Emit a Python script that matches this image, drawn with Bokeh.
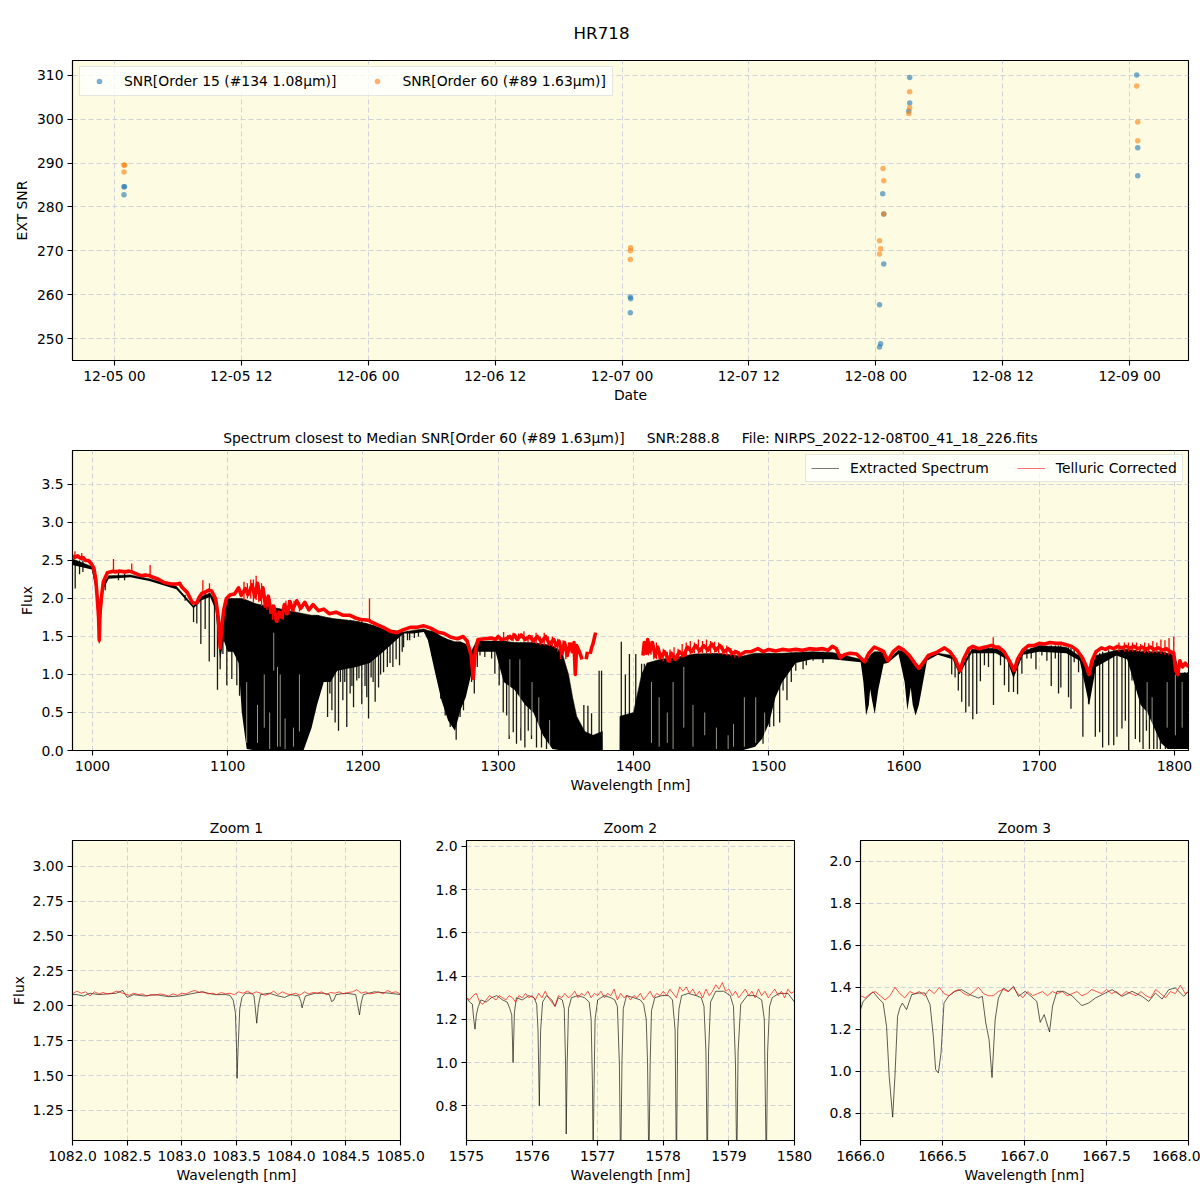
import pandas as pd
from bokeh.embed import file_html
from bokeh.layouts import column, row
from bokeh.models import (DatetimeTickFormatter, FixedTicker, Legend, LegendItem,
                          NumeralTickFormatter, Range1d, Title)
from bokeh.plotting import figure
from bokeh.resources import INLINE

nan = float("nan")

# ---- top panel
date_ticks = ["2022-12-05 00:00", "2022-12-05 12:00", "2022-12-06 00:00", "2022-12-06 12:00", "2022-12-07 00:00",
              "2022-12-07 12:00", "2022-12-08 00:00", "2022-12-08 12:00", "2022-12-09 00:00"]
snr_ticks = [250, 260, 270, 280, 290, 300, 310]
o15_time = ["2022-12-05 00:54", "2022-12-05 00:57", "2022-12-05 00:54",
            "2022-12-07 00:47", "2022-12-07 00:49", "2022-12-07 00:47",
            "2022-12-08 00:21", "2022-12-08 00:27", "2022-12-08 00:21", "2022-12-08 00:39", "2022-12-08 00:45", "2022-12-08 00:45",
            "2022-12-08 03:12", "2022-12-08 03:12", "2022-12-08 03:07",
            "2022-12-09 00:40", "2022-12-09 00:46", "2022-12-09 00:46"]
o15_snr = [284.6, 284.6, 282.8, 259.5, 259.1, 255.9, 257.7, 248.8, 248.1, 283.0, 278.4, 267.0, 309.5, 303.7, 301.9, 310.1, 293.5, 287.1]
o60_time = ["2022-12-05 00:54", "2022-12-05 00:57", "2022-12-05 00:54",
            "2022-12-07 00:49", "2022-12-07 00:47", "2022-12-07 00:47",
            "2022-12-08 00:41", "2022-12-08 00:45", "2022-12-08 00:45", "2022-12-08 00:21", "2022-12-08 00:27", "2022-12-08 00:21",
            "2022-12-08 03:12", "2022-12-08 03:12", "2022-12-08 03:07",
            "2022-12-09 00:40", "2022-12-09 00:46", "2022-12-09 00:46"]
o60_snr = [289.6, 289.5, 288.0, 270.7, 270.0, 268.0, 288.8, 286.0, 278.4, 272.3, 270.5, 269.3, 306.3, 302.6, 301.3, 307.6, 299.4, 295.1]

# ---- full spectrum: solid band of the extracted spectrum
band_wl = [985.2, 999.5, 1003, 1005, 1008, 1012, 1028, 1042, 1062, 1074.7, 1081, 1087, 1091, 1094.4, 1097, 1100, 1104, 1108,
           1110.4, 1114, 1121, 1156, 1162, 1166, 1171, 1176, 1181, 1195, 1205, 1215, 1230, 1237, 1245, 1248, 1253, 1258, 1263,
           1268, 1272, 1276, 1280, 1284, 1298, 1304, 1312, 1320, 1326, 1333, 1340, 1347, 1352, 1355, 1358, 1364, 1370, 1377,
           1377.1, 1389.9, 1390, 1400, 1406, 1410, 1420, 1430, 1445, 1463, 1480, 1490, 1495, 1500, 1505, 1510, 1520, 1532,
           1547, 1568, 1570, 1572, 1574, 1575, 1576.5, 1578.4, 1581, 1585, 1588, 1596, 1600.5, 1602.5, 1604, 1605, 1606.5, 1608.6, 1611, 1613, 1617, 1625,
           1636, 1641, 1650, 1668,
           1676, 1681, 1688, 1700, 1720, 1730, 1737, 1742, 1757, 1765, 1770, 1775, 1780, 1785, 1790, 1795, 1800, 1804, 1810.4]
band_top = [2.52, 2.42, 2.12, 1.70, 2.18, 2.30, 2.31, 2.26, 2.16, 1.90, 2.03, 2.07, 1.96, 1.45, 1.80, 2.00, 2.00, 2.00,
            2.00, 1.98, 1.93, 1.80, 1.78, 1.78, 1.76, 1.74, 1.73, 1.70, 1.66, 1.60, 1.56, 1.58, 1.60, 1.58, 1.56, 1.50, 1.46,
            1.43, 1.43, 1.40, 1.30, 1.44, 1.44, 1.44, 1.42, 1.42, 1.42, 1.40, 1.38, 1.30, 1.00, 0.70, 0.45, 0.25, 0.20, 0.25,
            0.0, 0.0, 0.45, 0.50, 1.00, 1.15, 1.20, 1.22, 1.27, 1.28, 1.24, 1.28, 1.28, 1.28, 1.28, 1.28, 1.29, 1.30,
            1.29, 1.20, 1.17, 1.18, 1.22, 1.25, 1.28, 1.30, 1.30, 1.30, 1.19, 1.32, 1.30, 1.28, 1.24, 1.20, 1.16, 1.10, 1.06, 1.15, 1.22, 1.28,
            1.25, 1.05, 1.33, 1.35,
            1.25, 1.03, 1.30, 1.38, 1.36, 1.24, 1.00, 1.25, 1.32, 1.33, 1.32, 1.30, 1.30, 1.30, 1.30, 1.28, 1.25, 1.02, 1.02]
band_low = [2.44, 2.38, 2.05, 1.42, 2.12, 2.26, 2.28, 2.23, 2.12, 1.87, 1.98, 2.02, 1.85, 1.20, 1.45, 1.30, 1.30, 1.15,
            0.50, 0.02, 0.0, 0.0, 0.30, 0.60, 0.90, 0.90, 1.05, 1.10, 1.15, 1.30, 1.54, 1.54, 1.56, 1.45, 1.05, 0.66, 0.39,
            0.26, 0.53, 0.70, 1.00, 1.30, 1.30, 0.90, 0.80, 0.60, 0.50, 0.20, 0.02, 0.0, 0.0, 0.0, 0.0, 0.0, 0.0, 0.0,
            0.0, 0.0, 0.0, 0.0, 0.0, 0.0, 0.0, 0.0, 0.0, 0.0, 0.0, 0.05, 0.15, 0.35, 0.70, 0.90, 1.15, 1.20,
            1.20, 1.16, 0.90, 0.46, 0.60, 0.81, 0.65, 0.48, 0.80, 1.14, 1.15, 1.27, 0.90, 0.53, 0.70, 0.83, 0.60, 0.46, 0.60, 0.79, 1.18, 1.26,
            1.20, 1.00, 1.28, 1.28,
            1.20, 0.95, 1.26, 1.30, 1.28, 1.18, 0.60, 1.10, 1.25, 1.20, 0.90, 0.60, 0.50, 0.30, 0.10, 0.02, 0.02, 0.02, 0.02]

# ---- full spectrum: deep telluric lines
line_wl = [987.2, 990.4, 992.9, 1009.4, 1011.8, 1019.2, 1023.7, 1068.5, 1074.7, 1077.1, 1080.1, 1083.3, 1086.3, 1090.2, 1092.4,
           1094.4, 1096.4, 1099.3, 1103.0, 1106.7, 1108.7, 1164.1, 1167.1, 1169.6, 1173.8, 1177.0, 1179.4, 1181.9, 1185.1,
           1188.0, 1193.0, 1195.4, 1199.1, 1204.1, 1206.0, 1209.0, 1211.5, 1215.2, 1222.1, 1227.0, 1230.0, 1232.9, 1250.9,
           1254.6, 1257.5, 1260.8, 1264.5, 1268.9, 1271.8, 1274.3, 1277.8, 1280.3, 1282.3, 1284.5, 1286.5, 1290.1, 1295.1,
           1297.5, 1300.7, 1303.7, 1306.2, 1308.1, 1311.1, 1313.5, 1316.7, 1319.7, 1322.2, 1324.6, 1328.3, 1332.0, 1335.7,
           1363.3, 1366.3, 1369.0, 1374.6, 1376.4, 1391.0, 1394.0, 1397.0, 1401.7, 1406.0, 1408.0,
           1495.8, 1500.7, 1503.7, 1508.1, 1510.6, 1513.5, 1516.7, 1520.0, 1525.4, 1527.8, 1532.8, 1540.1,
           1635.3, 1637.8, 1640.2, 1642.7, 1645.7, 1648.1, 1650.9, 1653.8, 1656.5, 1659.5, 1662.5, 1666.2, 1671.4, 1674.3,
           1677.5, 1681.0, 1684.0, 1687.2, 1690.9, 1694.1, 1697.6, 1702.0, 1705.7, 1708.9, 1711.9, 1714.3, 1716.0, 1721.7,
           1723.5, 1725.9, 1729.1, 1732.3, 1736.5, 1741.5, 1744.7, 1746.9, 1751.4, 1755.1, 1757.5, 1761.2, 1763.7, 1766.2,
           1768.6, 1771.1, 1774.3, 1776.8, 1779.3, 1781.5, 1784.7, 1787.2, 1789.6, 1793.3, 1797.0, 1800.7, 1804.4, 1807.7, 1809.9,
           1165.5, 1171.5, 1175.5, 1183.3, 1186.5, 1190.5, 1191.8, 1197.0, 1201.5, 1202.8, 1207.5, 1213.0, 1218.0, 1220.0, 1224.5, 1229.0, 1234.5, 1238.0, 1241.0]
line_low = [2.13, 2.32, 2.35, 2.11, 2.28, 2.24, 2.24, 1.97, 1.69, 1.67, 1.40, 1.60, 1.17, 1.23, 0.80,
            1.07, 1.27, 0.86, 0.94, 0.86, 0.72, 0.50, 1.14, 0.96, 0.44, 0.53, 0.37, 0.26, 0.66,
            0.31, 0.57, 0.92, 0.61, 0.42, 0.96, 0.64, 0.83, 1.03, 1.10, 1.12, 1.36, 1.45, 1.25,
            0.96, 0.68, 0.46, 0.31, 0.14, 0.44, 0.53, 0.92, 0.90, 0.75, 1.10, 1.25, 1.23, 1.21,
            1.01, 0.86, 0.50, 0.46, 0.15, 0.24, 0.09, 0.13, 0.04, 0.26, 0.15, 0.04, 0.04, 0.02,
            0.0, 0.0, 0.0, 0.0, 0.0, 0.0, 0.0, 0.0, 0.0, 0.0, 0.0,
            0.09, 0.31, 0.32, 0.37, 0.79, 0.66, 0.90, 1.05, 1.07, 1.12, 1.18, 1.15,
            1.00, 0.96, 0.79, 0.64, 0.50, 0.58, 0.41, 0.48, 0.91, 1.12, 1.10, 0.60, 1.12, 0.86,
            0.77, 0.77, 0.74, 1.01, 1.21, 1.21, 1.07, 1.25, 1.18, 0.85, 1.21, 0.75, 0.83, 0.70,
            0.55, 1.16, 1.03, 0.18, 0.61, 0.18, 0.24, 0.04, 0.07, 0.07, 0.18, 0.29, 0.39, 0.0,
            0.92, 0.15, 0.11, 0.02, 0.26, 0.02, 0.02, 0.02, 0.02, 0.02, 0.02, 0.02, 0.02, 0.09, 0.02,
            0.70, 0.90, 0.75, 0.90, 0.90, 0.75, 0.85, 0.95, 0.85, 0.70, 0.90, 1.00, 1.10, 1.15, 1.20, 1.30, 1.45, 1.48, 1.50]
line_top = [2.45, 2.50, 2.50, 2.25, 2.30, 2.34, 2.33, 2.05, 1.90, 1.94, 2.00, 2.06, 2.08, 2.00, 1.90,
            1.60, 1.80, 2.00, 2.00, 2.00, 2.00, 1.78, 1.78, 1.76, 1.75, 1.74, 1.73, 1.73, 1.72,
            1.72, 1.71, 1.70, 1.70, 1.66, 1.65, 1.64, 1.62, 1.60, 1.57, 1.56, 1.56, 1.57, 1.58,
            1.56, 1.50, 1.47, 1.45, 1.43, 1.43, 1.41, 1.38, 1.20, 1.28, 1.44, 1.44, 1.44, 1.44,
            1.44, 1.44, 1.44, 1.44, 1.43, 1.43, 1.42, 1.42, 1.42, 1.42, 1.42, 1.41, 1.40, 1.39,
            0.60, 0.59, 0.49, 1.05, 1.05, 1.43, 1.00, 1.27, 1.27, 1.14, 1.14,
            1.28, 1.28, 1.28, 1.28, 1.28, 1.28, 1.29, 1.29, 1.30, 1.30, 1.30, 1.30,
            1.25, 1.20, 1.05, 1.15, 1.28, 1.33, 1.34, 1.33, 1.33, 1.34, 1.35, 1.36, 1.35, 1.28,
            1.18, 1.03, 1.18, 1.30, 1.34, 1.35, 1.36, 1.38, 1.37, 1.38, 1.38, 1.38, 1.38, 1.36,
            1.35, 1.33, 1.26, 1.20, 1.00, 1.25, 1.28, 1.30, 1.32, 1.32, 1.32, 1.33, 1.33, 1.33,
            1.33, 1.32, 1.32, 1.32, 1.31, 1.31, 1.30, 1.30, 1.30, 1.29, 1.28, 1.04, 1.02, 1.03, 1.03,
            1.78, 1.76, 1.75, 1.73, 1.72, 1.72, 1.71, 1.70, 1.68, 1.67, 1.65, 1.62, 1.58, 1.57, 1.56, 1.56, 1.57, 1.58, 1.59]

# ---- full spectrum: thin clear gaps between the telluric lines
gap_wl = [1114.0, 1122.0, 1127.0, 1131.0, 1134.0, 1136.8, 1138.8, 1142.4, 1148.6, 1153.0,
          1308.6, 1316.0, 1325.0, 1330.0, 1338.0,
          1413.3, 1419.0, 1425.0, 1429.3, 1437.2, 1444.0, 1452.7, 1461.3, 1470.0, 1474.0, 1482.0, 1490.4, 1497.0,
          1779.8, 1783.5, 1794.6, 1800.7, 1805.7]
gap_low = [0.10, 0.10, 0.30, 0.02, 1.05, 0.05, 0.05, 0.02, 0.05, 0.25,
           0.20, 0.30, 0.20, 0.10, 0.05,
           0.10, 0.05, 0.10, 0.02, 0.30, 0.05, 0.20, 0.02, 0.02, 0.05, 0.05, 0.10, 0.10,
           0.40, 0.10, 0.30, 0.20, 0.30]
gap_top = [0.90, 0.60, 1.00, 0.50, 1.55, 1.10, 1.00, 0.42, 0.30, 1.00,
           1.20, 1.20, 0.90, 0.70, 0.40,
           0.90, 0.70, 0.50, 0.90, 1.10, 0.60, 0.50, 0.30, 0.20, 0.35, 0.70, 0.70, 0.50,
           0.90, 0.70, 0.90, 1.00, 0.90]

# ---- full spectrum: telluric corrected
red_wl = [985.2, 987, 989, 991, 993, 995, 997, 999, 1001, 1002.5, 1003.5, 1004.5, 1005, 1005.5, 1006.5, 1008, 1010, 1011, 1013, 1015.5,
          1016.5, 1020, 1024, 1027, 1029, 1033, 1036, 1039, 1042.6, 1043, 1048, 1053, 1058, 1063, 1064.5, 1066, 1070, 1074, 1077, 1079,
          1081, 1083, 1086, 1088, 1091, 1093, 1094.4, 1095.5, 1097, 1099, 1102, 1105, 1108, 1110, 1113, 1115, 1118, 1120, 1122, 1124,
          1126, 1128, 1130, 1132, 1134, 1136, 1138, 1140, 1142, 1144, 1146, 1148, 1151, 1154, 1157, 1160, 1163, 1167, 1171, 1175,
          1180, 1185, 1190, 1195, 1199, 1201, 1204.8, 1205.3, 1210, 1215, 1220, 1225, 1230, 1235, 1240, 1245, 1250, 1255, 1260, 1265,
          1270, 1274, 1277, 1280, 1281.5, 1283, 1285, 1290, 1295, 1298, 1300, 1302, 1306, 1308.6, 1310, 1312, 1314, 1317, 1320, 1323,
          1326, 1329, 1332, 1335, 1338, 1341, 1343, 1345, 1347, 1349, 1351, 1353, 1355, 1356, 1357, 1358, 1360, 1362, 1363, 1365,
          1366, 1367, 1368, 1369, 1370, 1372, 1373, 1407, 1408, 1409.5, 1410.5, 1412, 1414, 1416, 1418, 1420, 1423, 1426, 1428, 1431,
          1434, 1437, 1440, 1443, 1446, 1449, 1452, 1455, 1458, 1461, 1464, 1467, 1470, 1473, 1476, 1479, 1483, 1487, 1492, 1496,
          1500, 1505, 1510, 1515, 1520, 1525, 1530, 1535, 1540, 1544, 1547, 1550, 1553, 1556, 1560, 1565, 1569, 1571, 1574, 1578,
          1582, 1585, 1588, 1592, 1596, 1600, 1604, 1608, 1611, 1614, 1618, 1624, 1630, 1634, 1638, 1641.5, 1644, 1648, 1651, 1655,
          1660, 1664, 1666, 1666.5, 1670, 1674, 1678, 1681.5, 1684, 1688, 1692, 1696, 1700, 1704, 1708, 1712, 1716, 1720, 1724, 1728,
          1732, 1735, 1736.8, 1739, 1742, 1746, 1749, 1752, 1755, 1758, 1761, 1764, 1767, 1770, 1773, 1776, 1779, 1782, 1785, 1788,
          1791, 1794, 1797, 1799.5, 1801, 1802.5, 1804, 1806, 1808, 1810.4]
red_flux = [2.56, 2.54, 2.56, 2.53, 2.54, 2.50, 2.50, 2.46, 2.40, 2.24, 2.00, 1.75, 1.45, 1.80, 2.00, 2.22, 2.30, 2.34, 2.35, 2.36,
            2.35, 2.36, 2.35, 2.36, 2.35, 2.32, 2.30, 2.31, 2.30, 2.29, 2.26, 2.21, 2.19, 2.19, 2.20, 2.15, 2.08, 1.94, 1.94, 2.02,
            2.07, 2.08, 2.11, 2.10, 2.00, 1.75, 1.35, 1.60, 1.85, 2.00, 2.05, 2.06, 2.14, 2.04, 2.13, 2.05, 2.18, 2.02, 2.20, 1.99,
            2.14, 1.90, 2.03, 1.82, 1.90, 1.70, 1.82, 1.75, 1.92, 1.80, 1.96, 1.85, 1.97, 1.87, 1.95, 1.85, 1.92, 1.84, 1.86, 1.80,
            1.82, 1.78, 1.78, 1.74, 1.72, 1.72, 1.71, 1.70, 1.66, 1.62, 1.57, 1.55, 1.59, 1.62, 1.62, 1.64, 1.61, 1.56, 1.54, 1.49,
            1.47, 1.50, 1.44, 1.25, 0.95, 1.30, 1.46, 1.47, 1.48, 1.46, 1.50, 1.46, 1.47, 1.50, 1.47, 1.52, 1.46, 1.52, 1.46, 1.50,
            1.44, 1.50, 1.43, 1.50, 1.40, 1.46, 1.38, 1.44, 1.28, 1.42, 1.25, 1.40, 1.30, 1.42, 1.00, 1.38, 1.30, 1.20, nan, 1.20,
            1.30, nan, 1.27, 1.35, 1.40, 1.55, nan, 1.25, 1.42, 1.28, 1.46, 1.30, 1.42, 1.24, 1.36, 1.22, 1.30, 1.18, 1.28, 1.20,
            1.30, 1.25, 1.36, 1.30, 1.38, 1.31, 1.38, 1.32, 1.40, 1.32, 1.38, 1.30, 1.34, 1.28, 1.30, 1.26, 1.30, 1.30, 1.34, 1.30,
            1.33, 1.31, 1.33, 1.32, 1.33, 1.32, 1.34, 1.33, 1.34, 1.32, 1.37, 1.34, 1.22, 1.26, 1.28, 1.27, 1.20, 1.17, 1.28, 1.36,
            1.33, 1.30, 1.18, 1.30, 1.36, 1.32, 1.25, 1.15, 1.08, 1.15, 1.25, 1.29, 1.35, 1.30, 1.20, 1.05, 1.20, 1.34, 1.37, 1.34,
            1.36, 1.38, 1.38, 1.36, 1.36, 1.30, 1.18, 1.05, 1.20, 1.32, 1.38, 1.38, 1.41, 1.40, 1.42, 1.41, 1.41, 1.39, 1.37, 1.32,
            1.22, 1.10, 1.00, 1.18, 1.30, 1.35, 1.33, 1.36, 1.34, 1.37, 1.35, 1.37, 1.35, 1.37, 1.34, 1.36, 1.33, 1.36, 1.33, 1.35,
            1.32, 1.34, 1.30, 1.28, 1.05, 1.00, 1.18, 1.10, 1.15, 1.10]

# ---- full spectrum: scatter of the telluric corrected flux in noisy parts
fuzz_wl = [987, 992, 1005, 1015.5, 1029, 1042.6, 1081.6, 1086.5, 1204.8, 1666, 1799.5,
           1112, 1114.5, 1117, 1119, 1121, 1123, 1125, 1127, 1129, 1131, 1133, 1137, 1141, 1143, 1145, 1149, 1153,
           1304, 1307, 1311, 1315, 1319, 1322, 1325, 1328, 1331, 1334, 1337, 1340, 1342, 1344, 1346, 1348, 1350, 1352, 1354,
           1411, 1413, 1415, 1417, 1419, 1422, 1425, 1427, 1430, 1433, 1436, 1439, 1442, 1445, 1448, 1451, 1454, 1457, 1460, 1463, 1466, 1469, 1472, 1475, 1478,
           1759, 1763, 1766, 1769, 1772, 1775, 1778, 1781, 1784, 1787, 1790, 1793, 1796]
fuzz_low = [2.52, 2.50, 1.41, 2.35, 2.35, 2.30, 2.05, 2.10, 1.70, 1.36, 1.28,
            1.98, 2.00, 2.00, 1.95, 1.98, 1.95, 1.90, 1.88, 1.85, 1.80, 1.72, 1.68, 1.72, 1.78, 1.80, 1.82, 1.83,
            1.44, 1.43, 1.44, 1.44, 1.43, 1.42, 1.42, 1.40, 1.38, 1.38, 1.38, 1.36, 1.34, 1.30, 1.20, 1.25, 1.20, 1.28, 1.28,
            1.25, 1.26, 1.20, 1.20, 1.20, 1.17, 1.16, 1.15, 1.18, 1.20, 1.22, 1.24, 1.26, 1.28, 1.27, 1.28, 1.28, 1.27, 1.29, 1.27, 1.26, 1.25, 1.24, 1.22, 1.22,
            1.30, 1.30, 1.30, 1.30, 1.30, 1.30, 1.28, 1.28, 1.28, 1.28, 1.27, 1.26, 1.25]
fuzz_high = [2.62, 2.60, 1.70, 2.52, 2.46, 2.44, 2.24, 2.20, 2.00, 1.49, 1.50,
             2.22, 2.20, 2.25, 2.25, 2.30, 2.18, 2.20, 2.08, 2.02, 2.00, 1.92, 1.82, 1.92, 1.97, 1.98, 1.97, 1.95,
             1.56, 1.52, 1.55, 1.54, 1.57, 1.50, 1.52, 1.55, 1.50, 1.55, 1.50, 1.50, 1.46, 1.47, 1.40, 1.45, 1.40, 1.42, 1.42,
             1.48, 1.44, 1.38, 1.42, 1.35, 1.34, 1.30, 1.33, 1.36, 1.34, 1.40, 1.42, 1.44, 1.42, 1.46, 1.44, 1.46, 1.44, 1.43, 1.42, 1.38, 1.38, 1.35, 1.33, 1.31,
             1.42, 1.42, 1.42, 1.42, 1.42, 1.40, 1.42, 1.41, 1.44, 1.42, 1.46, 1.45, 1.48]

# ---- zoom 1
z1_ticks_x = [1082.0, 1082.5, 1083.0, 1083.5, 1084.0, 1084.5, 1085.0]
z1_ticks_y = [1.25, 1.50, 1.75, 2.00, 2.25, 2.50, 2.75, 3.00]
z1_black_wl = [1082.00, 1082.04, 1082.10, 1082.16, 1082.24, 1082.32, 1082.40, 1082.46, 1082.50, 1082.56, 1082.66, 1082.76, 1082.88, 1082.98,
               1083.08, 1083.18, 1083.30, 1083.40, 1083.44, 1083.47, 1083.49, 1083.50, 1083.505, 1083.515, 1083.53, 1083.55, 1083.58,
               1083.64, 1083.66, 1083.67, 1083.685, 1083.70, 1083.72, 1083.80, 1083.88, 1083.94, 1084.00, 1084.07, 1084.09, 1084.10, 1084.115,
               1084.13, 1084.22, 1084.30, 1084.35, 1084.37, 1084.39, 1084.41, 1084.50, 1084.59, 1084.61, 1084.625, 1084.64, 1084.66, 1084.76, 1084.90, 1085.00]
z1_black_flux = [2.08, 2.08, 2.07, 2.09, 2.08, 2.085, 2.09, 2.11, 2.06, 2.08, 2.07, 2.08, 2.065, 2.07,
                 2.085, 2.10, 2.08, 2.08, 2.075, 2.04, 1.95, 1.70, 1.48, 1.70, 1.98, 2.06, 2.09,
                 2.09, 2.07, 2.00, 1.875, 2.00, 2.08, 2.09, 2.07, 2.06, 2.08, 2.07, 2.03, 1.985, 2.03,
                 2.07, 2.09, 2.09, 2.08, 2.03, 2.04, 2.08, 2.09, 2.08, 2.00, 1.935, 2.02, 2.08, 2.10, 2.09, 2.08]
z1_red_wl = [1082.00, 1082.04, 1082.08, 1082.12, 1082.16, 1082.20, 1082.24, 1082.28, 1082.32, 1082.36,
             1082.40, 1082.44, 1082.48, 1082.52, 1082.56, 1082.60, 1082.64, 1082.68, 1082.72, 1082.76,
             1082.80, 1082.84, 1082.88, 1082.92, 1082.96, 1083.00, 1083.04, 1083.08, 1083.12, 1083.16,
             1083.20, 1083.24, 1083.28, 1083.32, 1083.36, 1083.40, 1083.44, 1083.48, 1083.52, 1083.56,
             1083.60, 1083.64, 1083.68, 1083.72, 1083.76, 1083.80, 1083.84, 1083.88, 1083.92, 1083.96,
             1084.00, 1084.04, 1084.08, 1084.12, 1084.16, 1084.20, 1084.24, 1084.28, 1084.32, 1084.36,
             1084.40, 1084.44, 1084.48, 1084.52, 1084.56, 1084.60, 1084.64, 1084.68, 1084.72, 1084.76,
             1084.80, 1084.84, 1084.88, 1084.92, 1084.96, 1085.00]
z1_red_flux = [2.085, 2.105, 2.09, 2.10, 2.07, 2.10, 2.085, 2.095, 2.085, 2.09,
               2.105, 2.095, 2.085, 2.075, 2.09, 2.08, 2.085, 2.07, 2.08, 2.075,
               2.085, 2.08, 2.07, 2.085, 2.075, 2.09, 2.085, 2.10, 2.11, 2.095,
               2.10, 2.085, 2.09, 2.08, 2.095, 2.085, 2.09, 2.08, 2.10, 2.09,
               2.105, 2.085, 2.10, 2.09, 2.075, 2.085, 2.105, 2.08, 2.10, 2.085,
               2.08, 2.09, 2.075, 2.10, 2.085, 2.095, 2.09, 2.10, 2.08, 2.095,
               2.09, 2.10, 2.085, 2.095, 2.10, 2.115, 2.09, 2.10, 2.085, 2.09,
               2.10, 2.085, 2.11, 2.095, 2.10, 2.085]

# ---- zoom 2
z2_ticks_x = [1575, 1576, 1577, 1578, 1579, 1580]
z2_ticks_y = [0.8, 1.0, 1.2, 1.4, 1.6, 1.8, 2.0]
z2_black_wl = [1575.00, 1575.05, 1575.09, 1575.11, 1575.13, 1575.15, 1575.18, 1575.22, 1575.30, 1575.38, 1575.46, 1575.55, 1575.62, 1575.66, 1575.69,
               1575.71, 1575.73, 1575.76, 1575.85, 1575.95, 1576.03, 1576.07, 1576.09, 1576.11, 1576.13, 1576.16, 1576.22, 1576.30, 1576.35, 1576.40,
               1576.46, 1576.49, 1576.51, 1576.52, 1576.535, 1576.555, 1576.60, 1576.70, 1576.80, 1576.87, 1576.90, 1576.92, 1576.93, 1576.945, 1576.96,
               1577.00, 1577.10, 1577.20, 1577.26, 1577.30, 1577.33, 1577.35, 1577.37, 1577.39, 1577.44, 1577.55, 1577.65, 1577.70, 1577.74, 1577.76,
               1577.78, 1577.80, 1577.82, 1577.87, 1577.98, 1578.08, 1578.14, 1578.18, 1578.20, 1578.22, 1578.24, 1578.28, 1578.38, 1578.50, 1578.58,
               1578.62, 1578.65, 1578.67, 1578.69, 1578.72, 1578.80, 1578.92, 1579.02, 1579.07, 1579.10, 1579.12, 1579.14, 1579.18, 1579.28, 1579.40,
               1579.50, 1579.54, 1579.57, 1579.59, 1579.62, 1579.66, 1579.76, 1579.90, 1580.00]
z2_black_flux = [1.30, 1.28, 1.27, 1.20, 1.155, 1.22, 1.26, 1.29, 1.28, 1.30, 1.31, 1.29, 1.28, 1.25, 1.22,
                 1.00, 1.23, 1.30, 1.29, 1.31, 1.30, 1.27, 1.15, 0.80, 1.15, 1.28, 1.31, 1.29, 1.26, 1.30,
                 1.29, 1.25, 1.00, 0.67, 1.00, 1.25, 1.30, 1.31, 1.30, 1.28, 1.20, 0.90, 0.55, 0.90, 1.20,
                 1.29, 1.31, 1.30, 1.29, 1.26, 1.00, 0.50, 1.00, 1.25, 1.31, 1.30, 1.29, 1.27, 1.20, 1.00,
                 0.50, 1.00, 1.24, 1.30, 1.31, 1.31, 1.29, 1.15, 0.50, 1.15, 1.25, 1.31, 1.32, 1.31, 1.30,
                 1.26, 1.05, 0.50, 1.05, 1.28, 1.33, 1.33, 1.31, 1.26, 1.00, 0.50, 1.05, 1.27, 1.31, 1.31,
                 1.29, 1.20, 0.50, 1.05, 1.26, 1.30, 1.32, 1.32, 1.28]
z2_red_wl = [1575.00, 1575.05, 1575.10, 1575.15, 1575.20, 1575.25, 1575.30, 1575.35, 1575.40, 1575.45,
             1575.50, 1575.55, 1575.60, 1575.65, 1575.70, 1575.75, 1575.80, 1575.85, 1575.90, 1575.95,
             1576.00, 1576.05, 1576.10, 1576.15, 1576.20, 1576.25, 1576.30, 1576.35, 1576.40, 1576.45,
             1576.50, 1576.55, 1576.60, 1576.65, 1576.70, 1576.75, 1576.80, 1576.85, 1576.90, 1576.95,
             1577.00, 1577.05, 1577.10, 1577.15, 1577.20, 1577.25, 1577.30, 1577.35, 1577.40, 1577.45,
             1577.50, 1577.55, 1577.60, 1577.65, 1577.70, 1577.75, 1577.80, 1577.85, 1577.90, 1577.95,
             1578.00, 1578.05, 1578.10, 1578.15, 1578.20, 1578.25, 1578.30, 1578.35, 1578.40, 1578.45,
             1578.50, 1578.55, 1578.60, 1578.65, 1578.70, 1578.75, 1578.80, 1578.85, 1578.90, 1578.95,
             1579.00, 1579.05, 1579.10, 1579.15, 1579.20, 1579.25, 1579.30, 1579.35, 1579.40, 1579.45,
             1579.50, 1579.55, 1579.60, 1579.65, 1579.70, 1579.75, 1579.80, 1579.85, 1579.90, 1579.95, 1580.00]
z2_red_flux = [1.30, 1.29, 1.31, 1.32, 1.28, 1.27, 1.29, 1.31, 1.30, 1.29,
               1.31, 1.30, 1.29, 1.31, 1.30, 1.28, 1.31, 1.30, 1.32, 1.30,
               1.31, 1.29, 1.32, 1.30, 1.33, 1.30, 1.28, 1.26, 1.31, 1.30,
               1.32, 1.30, 1.31, 1.33, 1.30, 1.32, 1.31, 1.33, 1.30, 1.32,
               1.31, 1.33, 1.30, 1.32, 1.31, 1.34, 1.29, 1.32, 1.30, 1.31,
               1.29, 1.31, 1.30, 1.32, 1.29, 1.31, 1.33, 1.30, 1.32, 1.31,
               1.33, 1.31, 1.34, 1.32, 1.30, 1.35, 1.33, 1.35, 1.32, 1.34,
               1.31, 1.33, 1.30, 1.34, 1.31, 1.33, 1.36, 1.34, 1.37, 1.33,
               1.34, 1.31, 1.33, 1.30, 1.32, 1.34, 1.31, 1.33, 1.30, 1.34,
               1.31, 1.33, 1.30, 1.32, 1.34, 1.31, 1.33, 1.30, 1.34, 1.32, 1.33]

# ---- zoom 3
z3_ticks_x = [1666.0, 1666.5, 1667.0, 1667.5, 1668.0]
z3_ticks_y = [0.8, 1.0, 1.2, 1.4, 1.6, 1.8, 2.0]
z3_black_wl = [1666.00, 1666.016, 1666.047, 1666.077, 1666.108, 1666.138, 1666.159, 1666.175, 1666.196, 1666.210, 1666.226, 1666.240, 1666.255,
               1666.281, 1666.312, 1666.352, 1666.393, 1666.424, 1666.444, 1666.458, 1666.475, 1666.491, 1666.509, 1666.536, 1666.576, 1666.617,
               1666.668, 1666.719, 1666.743, 1666.764, 1666.784, 1666.802, 1666.821, 1666.841, 1666.872, 1666.902, 1666.933, 1666.963, 1667.004,
               1667.045, 1667.075, 1667.096, 1667.120, 1667.153, 1667.171, 1667.198, 1667.238, 1667.289, 1667.350, 1667.391, 1667.432, 1667.493,
               1667.534, 1667.595, 1667.656, 1667.717, 1667.758, 1667.798, 1667.839, 1667.880, 1667.921, 1667.971, 1668.00]
z3_black_flux = [1.294, 1.333, 1.357, 1.379, 1.349, 1.325, 1.214, 0.976, 0.781, 0.976, 1.262, 1.302, 1.325,
                 1.294, 1.365, 1.373, 1.373, 1.318, 1.167, 1.008, 0.992, 1.087, 1.325, 1.357, 1.381, 1.389,
                 1.365, 1.349, 1.357, 1.230, 1.151, 0.970, 1.246, 1.349, 1.397, 1.381, 1.405, 1.357, 1.381,
                 1.354, 1.333, 1.233, 1.270, 1.187, 1.311, 1.381, 1.381, 1.360, 1.313, 1.325, 1.349, 1.373,
                 1.389, 1.357, 1.381, 1.357, 1.333, 1.373, 1.344, 1.389, 1.397, 1.357, 1.381]
z3_red_wl = [1666.00, 1666.03, 1666.06, 1666.09, 1666.12, 1666.15, 1666.18, 1666.21, 1666.24, 1666.27,
             1666.30, 1666.33, 1666.36, 1666.39, 1666.42, 1666.45, 1666.48, 1666.51, 1666.54, 1666.57,
             1666.60, 1666.63, 1666.66, 1666.69, 1666.72, 1666.75, 1666.78, 1666.81, 1666.84, 1666.87,
             1666.90, 1666.93, 1666.96, 1666.99, 1667.02, 1667.05, 1667.08, 1667.11, 1667.14, 1667.17,
             1667.20, 1667.23, 1667.26, 1667.29, 1667.32, 1667.35, 1667.38, 1667.41, 1667.44, 1667.47,
             1667.50, 1667.53, 1667.56, 1667.59, 1667.62, 1667.65, 1667.68, 1667.71, 1667.74, 1667.77,
             1667.80, 1667.83, 1667.86, 1667.89, 1667.92, 1667.95, 1667.98, 1668.00]
z3_red_flux = [1.36, 1.35, 1.37, 1.38, 1.36, 1.34, 1.36, 1.40, 1.37, 1.35,
               1.38, 1.37, 1.38, 1.36, 1.39, 1.37, 1.40, 1.37, 1.36, 1.38,
               1.39, 1.37, 1.36, 1.38, 1.40, 1.37, 1.36, 1.36, 1.38, 1.39,
               1.38, 1.40, 1.37, 1.35, 1.38, 1.36, 1.37, 1.38, 1.36, 1.38,
               1.37, 1.38, 1.36, 1.37, 1.38, 1.36, 1.37, 1.39, 1.38, 1.37,
               1.39, 1.37, 1.38, 1.36, 1.38, 1.37, 1.36, 1.38, 1.36, 1.35,
               1.39, 1.37, 1.35, 1.38, 1.37, 1.41, 1.37, 1.38]

FONT = "DejaVu Sans"
BG = "#fdfce2"
GRID = "#d2d2da"


def style(p, xticks, yticks, xlabel, ylabel, yfmt, xfmt=None, label_standoff=5, x_tick_gap=5, x_label_gap=3):
    p.background_fill_color = BG
    p.border_fill_color = "white"
    p.outline_line_color = "black"
    p.outline_line_width = 1.1
    p.xaxis.ticker = FixedTicker(ticks=xticks)
    p.yaxis.ticker = FixedTicker(ticks=yticks)
    if xfmt:
        p.xaxis.formatter = xfmt
    p.yaxis.formatter = NumeralTickFormatter(format=yfmt)
    for ax in (p.xaxis[0], p.yaxis[0]):
        ax.major_tick_in = 0
        ax.major_tick_out = 5
        ax.minor_tick_line_color = None
        ax.axis_line_width = 1.1
        ax.major_tick_line_width = 1.1
        ax.major_label_text_font = FONT
        ax.major_label_text_font_size = "13.9px"
        ax.major_label_text_color = "black"
        ax.axis_label_text_font = FONT
        ax.axis_label_text_font_size = "13.9px"
        ax.axis_label_text_font_style = "normal"
        ax.axis_label_text_color = "black"
    p.xaxis.major_label_standoff = x_tick_gap
    p.yaxis.major_label_standoff = 4
    p.xaxis.axis_label = xlabel
    p.xaxis.axis_label_standoff = x_label_gap
    if ylabel:
        p.yaxis.axis_label = ylabel
        p.yaxis.axis_label_standoff = label_standoff
    p.grid.grid_line_color = GRID
    p.grid.grid_line_dash = "5 3"
    p.grid.grid_line_width = 1


def axes_title(p, text):
    p.add_layout(Title(text=text, align="center", text_font=FONT, text_font_size="13.9px",
                       text_font_style="normal", text_color="black", standoff=10), "above")


def zoom_panel(title, xr, yr, left, right, xticks, yticks, yfmt, xfmt, ylabel,
               bw, bf, rw, rf):
    p = figure(output_backend="svg", toolbar_location=None, frame_width=328, frame_height=300,
               min_border_left=left, min_border_right=right, min_border_top=28, min_border_bottom=60,
               x_range=Range1d(*xr), y_range=Range1d(*yr))
    style(p, xticks, yticks, "Wavelength [nm]", ylabel, yfmt, NumeralTickFormatter(format=xfmt), label_standoff=3)
    axes_title(p, title)
    p.line(bw, bf, line_color="black", line_width=0.8, line_alpha=0.8)
    p.line(rw, rf, line_color="red", line_width=0.8, line_alpha=0.85)
    return p


def to_ms(stamp):
    return pd.Timestamp(stamp).timestamp() * 1000


# ---- top panel
dt_fmt = DatetimeTickFormatter(hours="%m-%d %H", days="%m-%d %H", hourmin="%m-%d %H", minutes="%m-%d %H",
                               months="%m-%d %H", context=None)
p1 = figure(output_backend="svg", toolbar_location=None, frame_width=1116, frame_height=300,
            min_border_left=72, min_border_right=12, min_border_top=60, min_border_bottom=62,
            x_axis_type="datetime",
            x_range=Range1d(to_ms("2022-12-04 20:02"), to_ms("2022-12-09 05:34")),
            y_range=Range1d(245.0, 313.4))
style(p1, [to_ms(t) for t in date_ticks], snr_ticks, "Date", "EXT SNR", "0", dt_fmt, label_standoff=4,
      x_tick_gap=2, x_label_gap=0)
p1.add_layout(Title(text="HR718", align="left", offset=501, text_font=FONT, text_font_size="16.7px",
                    text_font_style="normal", text_color="black", standoff=36), "above")
r_o15 = p1.scatter(pd.to_datetime(o15_time), o15_snr, size=5.5, color="#1f77b4", alpha=0.6, line_width=0)
r_o60 = p1.scatter(pd.to_datetime(o60_time), o60_snr, size=5.5, color="#ff7f0e", alpha=0.6, line_width=0)
leg1 = Legend(items=[LegendItem(label="SNR[Order 15 (#134 1.08μm)]", renderers=[r_o15]),
                     LegendItem(label="SNR[Order 60 (#89 1.63μm)]", renderers=[r_o60])],
              orientation="horizontal", location=(7, 264), label_text_font=FONT, label_text_font_size="13.9px",
              label_text_color="black", background_fill_alpha=0.8, border_line_color="#cccccc",
              glyph_width=26, glyph_height=14, label_standoff=12, spacing=28, padding=6, margin=0)
p1.add_layout(leg1, "center")

# ---- full spectrum
p2 = figure(output_backend="svg", toolbar_location=None, frame_width=1116, frame_height=300,
            min_border_left=72, min_border_right=12, min_border_top=28, min_border_bottom=62,
            x_range=Range1d(985.2, 1810.4), y_range=Range1d(0.0, 3.947))
style(p2, [1000, 1100, 1200, 1300, 1400, 1500, 1600, 1700, 1800], [0.0, 0.5, 1.0, 1.5, 2.0, 2.5, 3.0, 3.5],
      "Wavelength [nm]", "Flux", "0.0", NumeralTickFormatter(format="0"), label_standoff=3)
axes_title(p2, "Spectrum closest to Median SNR[Order 60 (#89 1.63μm)]\u00a0\u00a0\u00a0\u00a0\u00a0SNR:288.8\u00a0\u00a0\u00a0\u00a0\u00a0File: NIRPS_2022-12-08T00_41_18_226.fits")
p2.varea(x=band_wl, y1=band_low, y2=band_top, fill_color="black")
p2.segment(x0=line_wl, y0=line_low, x1=line_wl, y1=line_top, line_color="black", line_width=1.3, line_alpha=0.9)
p2.segment(x0=gap_wl, y0=gap_low, x1=gap_wl, y1=gap_top, line_color=BG, line_width=0.8, line_alpha=0.75)
r_black = p2.line(band_wl, band_top, line_color="black", line_width=0.7, line_alpha=0.75)
p2.line(red_wl, red_flux, line_color="red", line_width=3.6, line_join="round")
p2.segment(x0=fuzz_wl, y0=fuzz_low, x1=fuzz_wl, y1=fuzz_high, line_color="red", line_width=1.3)
r_red = p2.line(red_wl, red_flux, line_color="red", line_width=0.7, line_alpha=0.8)
leg2 = Legend(items=[LegendItem(label="Extracted Spectrum", renderers=[r_black]),
                     LegendItem(label="Telluric Corrected", renderers=[r_red])],
              orientation="horizontal", location=(733, 268), label_text_font=FONT, label_text_font_size="13.9px",
              label_text_color="black", background_fill_alpha=0.8, border_line_color="#cccccc",
              glyph_width=28, glyph_height=12, label_standoff=11, spacing=28, padding=5, margin=0)
p2.add_layout(leg2, "center")

# ---- zooms
z1 = zoom_panel("Zoom 1", (1082.0, 1085.0), (1.035, 3.184), 72, 26, z1_ticks_x, z1_ticks_y, "0.00", "0.0", "Flux",
                z1_black_wl, z1_black_flux, z1_red_wl, z1_red_flux)
z2 = zoom_panel("Zoom 2", (1575.0, 1580.0), (0.64, 2.027), 40, 26, z2_ticks_x, z2_ticks_y, "0.0", "0", None,
                z2_black_wl, z2_black_flux, z2_red_wl, z2_red_flux)
z3 = zoom_panel("Zoom 3", (1666.0, 1668.0), (0.67, 2.10), 40, 12, z3_ticks_x, z3_ticks_y, "0.0", "0.0", None,
                z3_black_wl, z3_black_flux, z3_red_wl, z3_red_flux)

page = column(p1, p2, row(z1, z2, z3, spacing=0), spacing=0)
open("out.html", "w").write(file_html(page, INLINE))
